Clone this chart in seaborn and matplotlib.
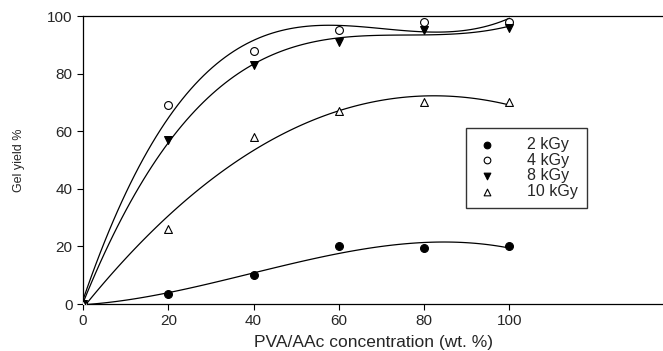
import numpy as np
import pandas as pd
import seaborn as sns
import matplotlib.pyplot as plt

conc = [0, 20, 40, 60, 80, 100]
y_2kgy = [0, 3.5, 10, 20, 19.3, 20]
y_4kgy = [0, 69, 88, 95, 98, 98]
y_8kgy = [0, 57, 83, 91, 95, 96]
y_10kgy = [0, 26, 58, 67, 70, 70]

series = [
    ("2 kGy", y_2kgy, "o", "black", 3),
    ("4 kGy", y_4kgy, "o", "white", 3),
    ("8 kGy", y_8kgy, "v", "black", 3),
    ("10 kGy", y_10kgy, "^", "white", 3),
]

sns.set_style("ticks")
plt.rcParams["font.family"] = ["Liberation Sans", "DejaVu Sans"]

fig = plt.figure(figsize=(6.63, 3.51), dpi=100)
ax = fig.add_axes([83 / 663, 47 / 351, 1 - 83 / 663, 288 / 351])

for label, vals, marker, face, order in series:
    df = pd.DataFrame({"x": conc, "y": vals})
    # cubic fit line through each dose series
    sns.regplot(data=df, x="x", y="y", order=order, ci=None, ax=ax,
                scatter=False, line_kws={"color": "black", "lw": 0.9})
    ax.scatter(conc, vals, marker=marker, s=32, facecolor=face,
               edgecolor="black", linewidth=0.8, zorder=5, label=label)

ax.set_xlim(0, 136)
ax.set_ylim(0, 100)
ax.set_xticks([0, 20, 40, 60, 80, 100])
ax.set_xticklabels(["0", "20", "40", "60", "80", "100"])
ax.set_yticks([0, 20, 40, 60, 80, 100])
ax.tick_params(axis="both", labelsize=11, length=4, width=0.8, color="black")
ax.set_xlabel("PVA/AAc concentration (wt. %)", fontsize=12.5, labelpad=5)
ax.set_ylabel("Gel yield %", fontsize=9, labelpad=16)
for s in ["left", "bottom", "top"]:
    ax.spines[s].set_color("black")
    ax.spines[s].set_linewidth(0.9)
ax.spines["right"].set_visible(False)

ax.legend(loc="upper left", bbox_to_anchor=(0.66, 0.611), frameon=True,
          fancybox=False, edgecolor="black", fontsize=11.5, handletextpad=1.7,
          borderpad=0.55, labelspacing=0.05, handlelength=1.6,
          markerscale=0.85, borderaxespad=0)

fig.savefig("out.png", dpi=100)
